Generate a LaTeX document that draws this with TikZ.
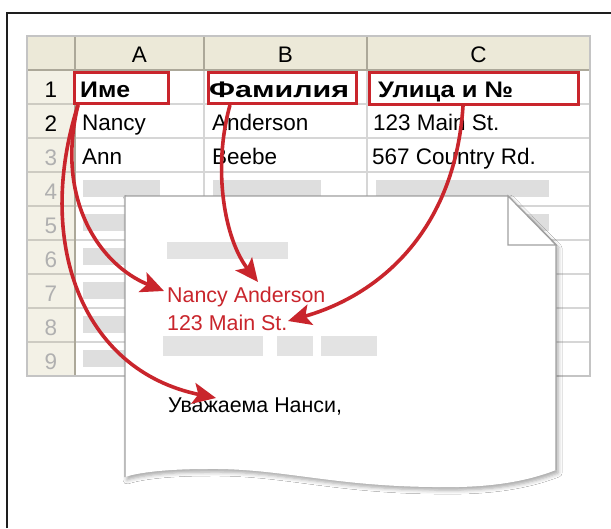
\documentclass[tikz,border=0pt]{standalone}
\usepackage{fontspec}
\setmainfont{Liberation Sans}
\usetikzlibrary{arrows.meta,shadows.blur}
\definecolor{hdrfill}{HTML}{ECE9D8}
\definecolor{rowfill}{HTML}{F3F1E6}
\definecolor{hdrline}{HTML}{ACA899}
\definecolor{gridline}{HTML}{D6D6D6}
\definecolor{barfill}{HTML}{DEDEDE}
\definecolor{pagebar}{HTML}{E3E3E3}
\definecolor{mergered}{HTML}{C9252C}
\definecolor{pageline}{HTML}{A0A0A0}
\definecolor{dimnum}{HTML}{B0B0B0}
\definecolor{framecol}{HTML}{1E1E1E}
\definecolor{sheetedge}{HTML}{C4C4C4}

\begin{document}
\begin{tikzpicture}[x=1pt,y=-1pt,
  celltext/.style={anchor=base west,inner sep=0pt,font=\fontsize{22.5}{26}\selectfont},
  boldtext/.style={celltext,font=\fontsize{22.5}{26}\selectfont\bfseries},
  hdrtext/.style={anchor=base,inner sep=0pt,font=\fontsize{22.5}{26}\selectfont},
  doctext/.style={anchor=base west,inner sep=0pt,font=\fontsize{21.4}{25}\selectfont},
  fieldbox/.style={draw=mergered,line width=3pt,anchor=north west,inner sep=0pt},
  bar/.style={fill=barfill},
  pagebarfill/.style={fill=pagebar},
  mergearrow/.style={draw=mergered,line width=3.6pt,
    -{Stealth[length=23pt,width=21pt,inset=5pt]}}]

\useasboundingbox (0,0) rectangle (611,528);
\fill[white] (0,0) rectangle (611,528);
% outer frame
\draw[framecol,line width=2pt] (7,528) -- (7,13) -- (611,13);

% ---- spreadsheet ----
\fill[hdrfill] (27,36) rectangle (590,70);
\fill[rowfill] (27,70) rectangle (75,376);
\foreach \r in {1,...,8}
  \draw[gridline,line width=1.2pt] (75,{70+34*\r}) -- (590,{70+34*\r});
\foreach \r in {1,...,8}
  \draw[hdrline!60,line width=1.2pt] (27,{70+34*\r}) -- (75,{70+34*\r});
\foreach \cx in {204,367}
  \draw[gridline,line width=1.2pt] (\cx,70) -- (\cx,376);
\foreach \cx in {75,204,367}
  \draw[hdrline,line width=1.2pt] (\cx,36) -- (\cx,70);
\draw[hdrline,line width=1.2pt] (75,70) -- (75,376);
\draw[hdrline,line width=1.2pt] (27,70) -- (590,70);
\draw[sheetedge,line width=1.4pt] (27,36) rectangle (590,376);

% column letters
\node[hdrtext] (colA) at (139.5,62) {A};
\node[hdrtext] (colB) at (285.5,62) {B};
\node[hdrtext] (colC) at (478.5,62) {C};

% row numbers
\foreach \r in {1,...,9}{
  \ifnum\r<3 \def\numcol{black}\else\def\numcol{dimnum}\fi
  \node[hdrtext,text=\numcol] (row\r) at (51,{63+34*\r}) {\r};
}

% placeholder bars in empty rows
\foreach \r in {4,...,9}{
  \fill[bar] (83,{44+34*\r}) rectangle (160,{61+34*\r});
  \fill[bar] (213,{44+34*\r}) rectangle (321,{61+34*\r});
  \fill[bar] (376,{44+34*\r}) rectangle (549,{61+34*\r});
}

% cell contents (bold headings set to the column widths)
\node[boldtext] (hA) at (80,97) {\resizebox{50pt}{\height}{Име}};
\node[boldtext] (hB) at (209,97) {\resizebox{140pt}{\height}{Фамилия}};
\node[boldtext] (hC) at (378,97) {\resizebox{135pt}{\height}{Улица и №}};
\node[celltext] (a2) at (82,130) {Nancy};
\node[celltext] (b2) at (212,130) {Anderson};
\node[celltext] (c2) at (373,130) {123 Main St.};
\node[celltext] (a3) at (82,164) {Ann};
\node[celltext] (b3) at (212,164) {Beebe};
\node[celltext] (c3) at (372,164) {567 Country Rd.};

% highlighted field cells
\node[fieldbox,minimum width=94pt,minimum height=31pt] (boxA) at (73,71) {};
\node[fieldbox,minimum width=148pt,minimum height=31pt] (boxB) at (207,71) {};
\node[fieldbox,minimum width=209pt,minimum height=32pt] (boxC) at (368,71) {};

% ---- merged letter page ----
\path[fill=white,
  blur shadow={shadow xshift=2pt,shadow yshift=-3pt,shadow blur radius=4pt,shadow opacity=35}]
  (125,196) -- (508,196) -- (556,245) -- (556,470)
  .. controls (520,484) and (480,488) .. (433,487)
  .. controls (330,486) and (280,468) .. (207,469)
  .. controls (170,469) and (140,472) .. (125,477) -- cycle;
\draw[pageline,line width=1.2pt] (125,477) -- (125,196) -- (508,196) -- (556,245) -- (556,470);
% folded corner
\fill[black,opacity=0.12] (510,196) -- (560,248) -- (556,245) -- cycle;
\draw[pageline,line width=1.2pt,fill=white] (508,196) -- (508,245) -- (556,245) -- cycle;

% placeholder lines on the page
\fill[pagebarfill] (167,242) rectangle (288,259);
\fill[pagebarfill] (163,336) rectangle (263,356);
\fill[pagebarfill] (277,336) rectangle (313,356);
\fill[pagebarfill] (321,336) rectangle (377,356);

% merged text
\node[doctext,text=mergered] (nm) at (167,302) {Nancy Anderson};
\node[doctext,text=mergered] (st) at (167,330) {123 Main St.};
\node[doctext] (greet) at (168,412) {Уважаема Нанси,};

% arrow end points
\coordinate (tipFirst) at (164,291);
\coordinate (tipLast) at (258,282);
\coordinate (tipStreet) at (288,321);
\coordinate (tipGreet) at (216,398);

% ---- field arrows ----
\draw[mergearrow] ([xshift=5pt]boxA.south west) .. controls (55,200) and (100,265) .. (tipFirst);
\draw[mergearrow] ([xshift=5pt]boxA.south west) .. controls (35,240) and (80,370) .. (tipGreet);
\draw[mergearrow] ([xshift=23pt]boxB.south west) .. controls (212,170) and (225,240) .. (tipLast);
\draw[mergearrow] ([xshift=95pt]boxC.south west) .. controls (455,230) and (380,295) .. (tipStreet);
\end{tikzpicture}
\end{document}
